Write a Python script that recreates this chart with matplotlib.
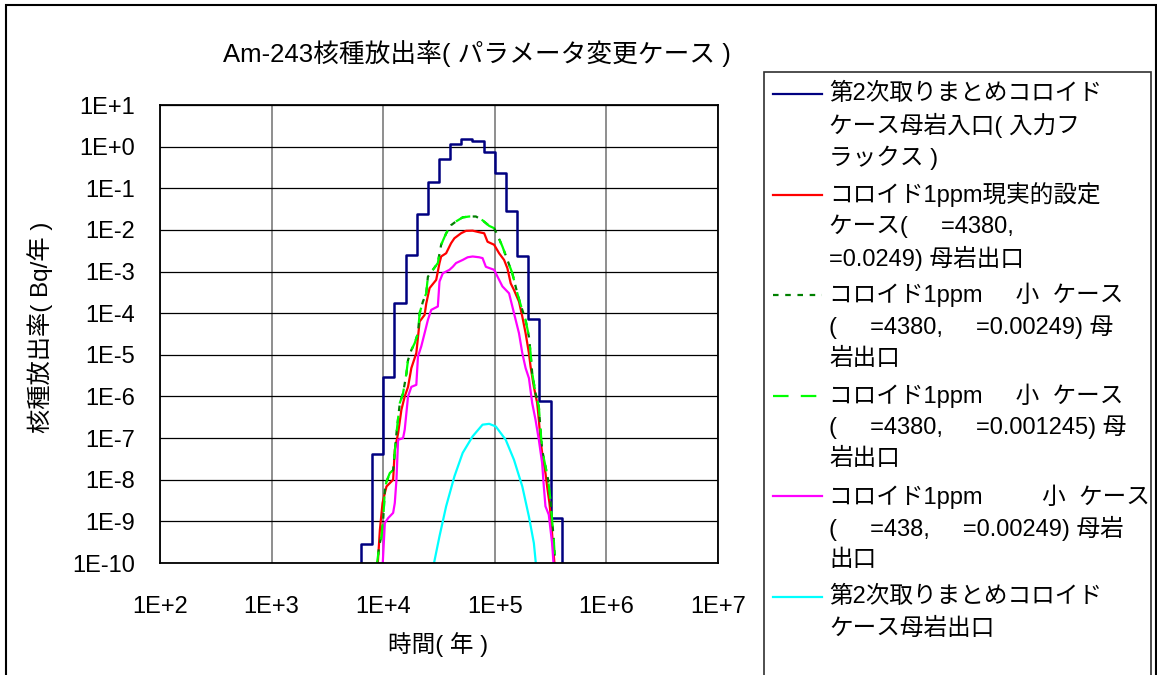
import math
import matplotlib
matplotlib.use("Agg")
import matplotlib.pyplot as plt
from matplotlib.lines import Line2D
from matplotlib.patches import Rectangle
from matplotlib.ticker import FixedLocator, FuncFormatter, NullLocator

plt.rcParams['font.family'] = ['Liberation Sans', 'Noto Sans CJK JP']

W, H = 1157, 675

# --- data (time in years, release rate in Bq/year) ---
inlet_t = [6310, 6310, 7943, 10000, 12589, 15849, 19953, 25119, 31623, 39811,
           50119, 63096, 79433, 100000, 125893, 158489, 199526, 251189, 316228, 398107]
inlet_r = [1e-12, 2.9e-10, 4.1e-8, 2.9e-6, 1.8e-4, 2.5e-3, 2.4e-2, 0.139, 0.50, 1.14,
           1.5, 1.39, 0.73, 0.238, 0.029, 2.4e-3, 7.2e-5, 7.6e-7, 1.2e-9, 1e-12]

real_t = [8904, 9340, 9865, 10347, 10707, 11464, 12275, 12701, 13599, 14561, 15591,
          16694, 17875, 19803, 21203, 23490, 24307, 26029, 29837, 31952, 33061, 36630,
          40579, 43451, 49815, 55184, 63276, 72517, 80353, 86061, 98650, 109290, 121100,
          129680, 138820, 148620, 164700, 176340, 188800, 202200, 209200, 223900, 239800,
          248100, 256700, 265600, 284400, 294300, 308700, 319600, 330700, 344500]
real_r = [8e-11, 6.3e-10, 2.75e-9, 4.8e-9, 6.9e-9, 8.3e-9, 1.0e-8, 5.2e-8, 1.3e-7, 4.8e-7,
          1.0e-6, 1.7e-6, 4.8e-6, 1.1e-5, 6.3e-5, 9.1e-5, 1.7e-4, 4.0e-4, 6.3e-4, 1.6e-3,
          2.3e-3, 2.75e-3, 4.8e-3, 6.3e-3, 8.3e-3, 9.5e-3, 9.6e-3, 8.8e-3, 8.3e-3, 5.2e-3,
          4.4e-3, 2.75e-3, 1.9e-3, 1.2e-3, 5.2e-4, 3.6e-4, 1.9e-4, 8.3e-5, 3.3e-5, 1.1e-5,
          5.2e-6, 1.7e-6, 6.9e-7, 2.75e-7, 9.1e-8, 4.4e-8, 1.45e-8, 6.9e-9, 2.75e-9, 1.1e-9,
          3.0e-10, 8e-11]

small_t = [8723, 9213, 9665, 10000, 10347, 10707, 11464, 12275, 13146, 14076, 15070,
           16138, 16694, 17875, 19140, 20490, 21203, 22700, 24307, 25150, 27870, 30870,
           31952, 33061, 36630, 40579, 44970, 51540, 59080, 67760, 77660, 89030, 98650,
           105600, 117000, 129680, 143600, 159200, 170400, 188800, 202200, 209200, 216400,
           231700, 248100, 256700, 265600, 284400, 300500, 315100, 326100, 337500, 349100]
small_r = [8e-11, 2.6e-10, 4.6e-10, 1.1e-9, 5.6e-9, 9.0e-9, 1.4e-8, 1.7e-8, 1.3e-7, 6.8e-7,
           1.2e-6, 3.5e-6, 7.5e-6, 1.3e-5, 1.9e-5, 3.3e-5, 1.0e-4, 1.9e-4, 3.0e-4, 7.5e-4,
           1.1e-3, 1.6e-3, 2.7e-3, 4.4e-3, 8.2e-3, 1.3e-2, 1.6e-2, 2.0e-2, 2.1e-2, 2.1e-2,
           1.7e-2, 1.25e-2, 1.1e-2, 7.5e-3, 4.0e-3, 1.9e-3, 9.0e-4, 3.0e-4, 1.6e-4, 6.8e-5,
           2.7e-5, 1.1e-5, 3.6e-6, 1.2e-6, 5.7e-7, 1.6e-7, 5.2e-8, 2.1e-8, 1.0e-8, 3.3e-9,
           1.1e-9, 3.7e-10, 8e-11]

half_t = [8723, 9213, 9665, 10000, 10347, 10707, 11464, 12275, 13146, 14076, 15070,
          16138, 16694, 17875, 19140, 20490, 21203, 22700, 24307, 25150, 27870, 30870,
          31952, 33061, 36630, 40579, 44970, 51540, 59080, 67760, 77660, 89030, 98650,
          105600, 117000, 129680, 143600, 159200, 170400, 188800, 202200, 209200, 216400,
          231700, 248100, 256700, 265600, 284400, 300500, 315100, 326100, 337500, 349100]
half_r = [8e-11, 2.5e-10, 4.4e-10, 1.1e-9, 5.75e-9, 9.1e-9, 1.45e-8, 1.7e-8, 1.3e-7, 6.9e-7,
          1.2e-6, 3.6e-6, 7.6e-6, 1.3e-5, 1.9e-5, 3.3e-5, 1.0e-4, 1.9e-4, 3.0e-4, 7.6e-4,
          1.1e-3, 1.6e-3, 2.75e-3, 4.4e-3, 8.3e-3, 1.3e-2, 1.6e-2, 2.0e-2, 2.1e-2, 2.1e-2,
          1.7e-2, 1.25e-2, 1.1e-2, 7.6e-3, 4.0e-3, 1.9e-3, 9.1e-4, 3.0e-4, 1.6e-4, 6.9e-5,
          2.75e-5, 1.1e-5, 3.6e-6, 1.2e-6, 5.75e-7, 1.6e-7, 5.2e-8, 2.1e-8, 1.0e-8, 3.3e-9,
          1.1e-9, 3.6e-10, 8e-11]

kd_t = [9865, 10347, 11079, 12275, 12701, 13146, 13599, 15070, 15591, 16138, 16694,
        17875, 19803, 20490, 21940, 23490, 25150, 26930, 30870, 31952, 34210, 39230,
        42000, 44970, 51540, 57100, 63276, 72517, 77660, 83180, 98650, 105600, 117000,
        134200, 143600, 153800, 164700, 176340, 188800, 202200, 216400, 231700, 248100,
        265600, 274900, 284400, 304500, 326100, 337500]
kd_r = [8e-11, 9.1e-10, 1.2e-9, 1.6e-9, 2.75e-9, 1.0e-8, 9.1e-8, 1.0e-7, 1.6e-7, 4.0e-7,
        1.0e-6, 1.7e-6, 1.9e-6, 9.1e-6, 1.6e-5, 3.3e-5, 6.9e-5, 1.2e-4, 1.45e-4, 5.75e-4,
        9.1e-4, 1.1e-3, 1.3e-3, 1.6e-3, 1.9e-3, 2.2e-3, 2.3e-3, 2.2e-3, 2.1e-3, 1.3e-3,
        1.1e-3, 7.6e-4, 4.4e-4, 3.0e-4, 1.45e-4, 6.9e-5, 3.3e-5, 1.1e-5, 4.8e-6, 2.75e-6,
        6.9e-7, 2.75e-7, 9.1e-8, 2.5e-8, 6.9e-9, 2.3e-9, 1.45e-9, 3.0e-10, 8e-11]

outlet_t = [28060, 31952, 36630, 43451, 51540, 63276, 77660, 89030, 102100, 125300,
            148620, 176340, 202200, 223900, 234900]
outlet_r = [8e-11, 4.4e-10, 2.3e-9, 1.2e-8, 4.4e-8, 1.1e-7, 2.1e-7, 2.2e-7, 1.9e-7, 9.1e-8,
            3.0e-8, 6.9e-9, 1.3e-9, 3.0e-10, 8e-11]

labels = [
    ["第2次取りまとめコロイド", "ケース母岩入口( 入力フ", "ラックス )"],
    ["コロイド1ppm現実的設定", "ケース(     =4380,", "=0.0249) 母岩出口"],
    ["コロイド1ppm     小  ケース", "(     =4380,     =0.00249) 母", "岩出口"],
    ["コロイド1ppm     小  ケース", "(     =4380,     =0.001245) 母", "岩出口"],
    ["コロイド1ppm         小  ケース", "(     =438,     =0.00249) 母岩", "出口"],
    ["第2次取りまとめコロイド", "ケース母岩出口"],
]
colors = ['#000080', '#ff0000', '#008000', '#00ff00', '#ff00ff', '#00ffff']
styles = ['-', '-', (0, (2.5, 3)), (0, (7, 5.5)), '-', '-']

fig = plt.figure(figsize=(W / 100, H / 100), dpi=100)
ax = fig.add_axes([160 / W, 1 - 563 / H, 558 / W, 458 / H])

series = [(inlet_t, inlet_r), (real_t, real_r), (small_t, small_r),
          (half_t, half_r), (kd_t, kd_r), (outlet_t, outlet_r)]
for i, (t, r) in enumerate(series):
    ax.plot(t, r, color=colors[i], linestyle=styles[i],
            linewidth=1.8 if i == 0 else 1.6,
            drawstyle='steps-post' if i == 0 else 'default')

ax.set_xscale('log')
ax.set_yscale('log')
ax.set_xlim(1e2, 1e7)
ax.set_ylim(1e-10, 1e1)

def sci_label(v, pos):
    k = int(round(math.log10(v)))
    return f"1E+{k}" if k >= 0 else f"1E-{-k}"

ax.xaxis.set_major_locator(FixedLocator([10.0 ** k for k in range(2, 8)]))
ax.yaxis.set_major_locator(FixedLocator([10.0 ** k for k in range(-10, 2)]))
ax.xaxis.set_minor_locator(NullLocator())
ax.yaxis.set_minor_locator(NullLocator())
ax.xaxis.set_major_formatter(FuncFormatter(sci_label))
ax.yaxis.set_major_formatter(FuncFormatter(sci_label))
ax.tick_params(axis='both', labelsize=17, length=0)
ax.tick_params(axis='x', pad=24)
ax.tick_params(axis='y', pad=18)

ax.grid(axis='y', color='black', linewidth=0.9)
ax.grid(axis='x', color='#707070', linewidth=1.1)
ax.set_axisbelow(True)
for s in ax.spines.values():
    s.set_linewidth(1.3)
    s.set_color('black')

# title and axis labels
fig.text(477 / W, 1 - 54 / H, "Am-243核種放出率( パラメータ変更ケース )",
         ha='center', va='center', fontsize=18.5)
fig.text(438 / W, 1 - 645 / H, "時間( 年 )", ha='center', va='center', fontsize=17)
fig.text(40 / W, 1 - 327 / H, "核種放出率( Bq/年 )", ha='center', va='center',
         rotation=90, fontsize=17.5)

# outer frame and legend box
fig.add_artist(Rectangle((6 / W, -0.05), 1150 / W, 1.05 - 5 / H, transform=fig.transFigure,
                         fill=False, edgecolor='black', linewidth=1.5))
fig.add_artist(Rectangle((764 / W, -0.05), 387 / W, 1.05 - 72 / H, transform=fig.transFigure,
                         fill=False, edgecolor='#303030', linewidth=1.2))

# hand-built legend: handle aligned with the first text line
for i, lines in enumerate(labels):
    y0 = 94 + i * 100.6
    fig.add_artist(Line2D([773 / W, 822 / W], [1 - y0 / H, 1 - y0 / H],
                          transform=fig.transFigure, color=colors[i],
                          linestyle=styles[i], linewidth=1.6))
    for j, txt in enumerate(lines):
        fig.text(829 / W, 1 - (y0 + j * 31.7) / H, txt, ha='left', va='center', fontsize=17)

fig.savefig("out.png", dpi=100)
